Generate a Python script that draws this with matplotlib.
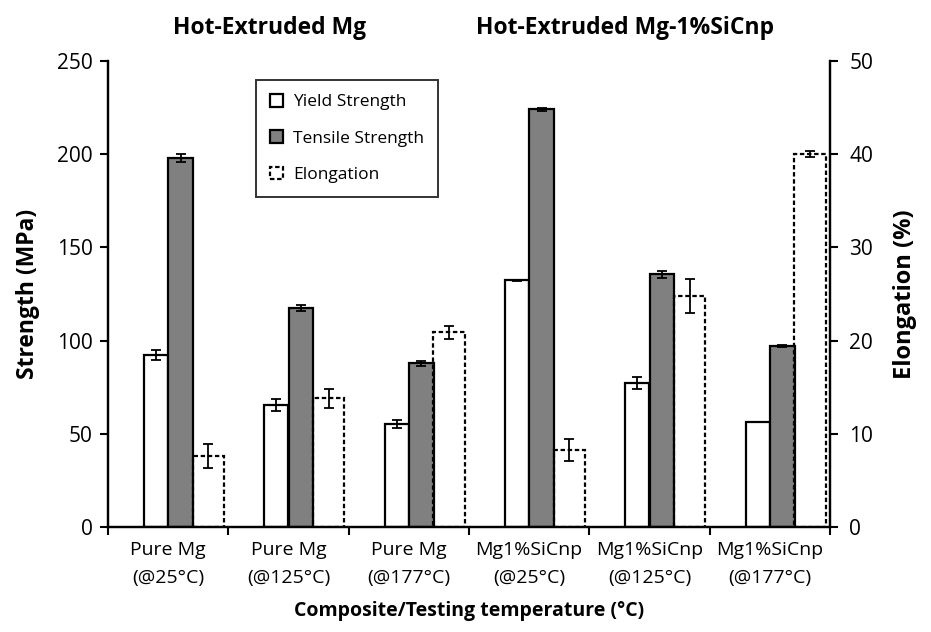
"""Strength and elongation of hot-extruded Mg and Mg-1%SiCnp."""
import numpy as np
import matplotlib
matplotlib.use("Agg")
import matplotlib.pyplot as plt
from matplotlib.patches import Patch

plt.rcParams["font.family"] = ["Open Sans", "DejaVu Sans"]

categories = ["Pure Mg\n(@25\u00b0C)", "Pure Mg\n(@125\u00b0C)", "Pure Mg\n(@177\u00b0C)",
              "Mg1%SiCnp\n(@25\u00b0C)", "Mg1%SiCnp\n(@125\u00b0C)", "Mg1%SiCnp\n(@177\u00b0C)"]
yield_strength = [92.4, 65.3, 55.3, 132.3, 77.3, 56.5]
yield_err = [2.7, 3.2, 2.0, 0.4, 3.3, 0.0]
tensile_strength = [198, 117.5, 87.8, 224, 135.7, 97.1]
tensile_err = [2.0, 1.5, 1.5, 1.0, 1.9, 0.3]
elongation = [7.6, 13.8, 20.9, 8.3, 24.8, 40.0]
elongation_err = [1.3, 1.0, 0.7, 1.2, 1.8, 0.3]

x = np.arange(len(categories))
edge_kw = dict(edgecolor="black", linewidth=1.6)
err_kw = dict(ecolor="black", elinewidth=1.3, capsize=3.5, capthick=1.3)

fig = plt.figure(figsize=(9.31, 6.32), dpi=100)
ax = fig.add_axes([0.116, 0.166, 0.7755, 0.7375])
ax2 = ax.twinx()

ax.bar(x - 0.1, yield_strength, width=0.2, color="white", yerr=yield_err,
       error_kw=err_kw, **edge_kw, zorder=2)
ax.bar(x + 0.103, tensile_strength, width=0.205, color="#808080", yerr=tensile_err,
       error_kw=err_kw, **edge_kw, zorder=2)
ax2.bar(x + 0.205, elongation, width=0.258, align="edge", color="none",
        edgecolor="black", linewidth=1.6, linestyle=(0, (2, 1.2)), zorder=2)
ax2.errorbar(x + 0.334, elongation, yerr=elongation_err, fmt="none", **err_kw, zorder=3)

ax.set_xlim(-0.5, 5.5)
ax.set_ylim(0, 250)
ax2.set_ylim(0, 50)
ax.set_yticks(np.arange(0, 251, 50))
ax2.set_yticks(np.arange(0, 51, 10))
ax.set_xticks(x)
ax.set_xticklabels(categories, fontsize=14, linespacing=1.75)
ax.set_xticks(np.arange(-0.5, 6, 1), minor=True)
ax.tick_params(axis="x", which="major", length=0, pad=10)
ax.tick_params(axis="x", which="minor", length=6, width=1.5, direction="out")
ax.tick_params(axis="y", length=6, width=1.5, labelsize=15, pad=5)
ax2.tick_params(axis="y", length=6, width=1.5, labelsize=15, pad=8)

for a in (ax, ax2):
    a.spines["top"].set_visible(False)
    for s in ("left", "right", "bottom"):
        a.spines[s].set_linewidth(1.6)

ax.set_ylabel("Strength (MPa)", fontsize=16.5, fontweight="bold", labelpad=12)
ax2.set_ylabel("Elongation (%)", fontsize=17, fontweight="bold", labelpad=14)
ax.set_xlabel("Composite/Testing temperature (\u00b0C)", fontsize=14,
              fontweight="bold", labelpad=10)

fig.text(270 / 931, 1 - 28 / 632, "Hot-Extruded Mg", fontsize=16.5,
         fontweight="bold", ha="center", va="center")
fig.text(625 / 931, 1 - 28 / 632, "Hot-Extruded Mg-1%SiCnp", fontsize=16.5,
         fontweight="bold", ha="center", va="center")

handles = [
    Patch(facecolor="white", edgecolor="black", linewidth=1.6, label="Yield Strength"),
    Patch(facecolor="#808080", edgecolor="black", linewidth=1.6, label="Tensile Strength"),
    Patch(facecolor="white", edgecolor="black", linewidth=1.6, linestyle=(0, (2, 1.2)),
          label="Elongation"),
]
leg = ax2.legend(handles=handles, loc="upper left", bbox_to_anchor=(256 / 931, 1 - 80 / 632),
                 bbox_transform=fig.transFigure, fontsize=12.5, frameon=True,
                 fancybox=False, handlelength=0.75, handleheight=0.75,
                 handletextpad=0.6, labelspacing=1.15, borderpad=0.8, borderaxespad=0)
leg.get_frame().set_edgecolor("black")
leg.get_frame().set_linewidth(1.4)

fig.savefig("out.png", dpi=100)
